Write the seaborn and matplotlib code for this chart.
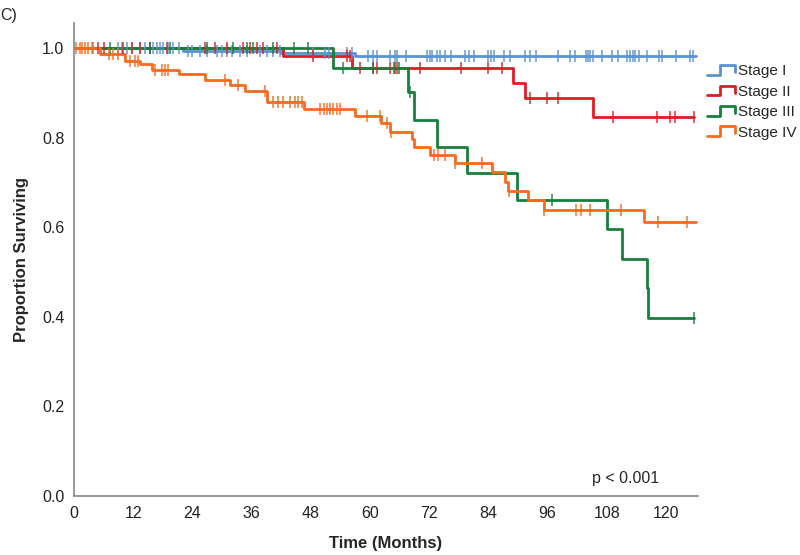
import numpy as np
import pandas as pd
import matplotlib
matplotlib.use("Agg")
import matplotlib.pyplot as plt
from matplotlib.lines import Line2D
from matplotlib.legend_handler import HandlerBase
import seaborn as sns

# Kaplan-Meier step data
stages = ['Stage I', 'Stage II', 'Stage III', 'Stage IV']
colors = ['#5a92d2', '#e01b24', '#17803c', '#f96a1e']

stage1_t = [0, 22, 42, 57]
stage1_s = [1.0, 0.993, 0.989, 0.982]
stage2_t = [0, 42.4, 56.4, 89, 91.5, 105.3]
stage2_s = [1.0, 0.983, 0.955, 0.923, 0.888, 0.847]
stage3_t = [0, 52.5, 67.8, 69, 73.6, 79.7, 89.8, 108, 111, 116.2, 116.4]
stage3_s = [1.0, 0.955, 0.902, 0.84, 0.78, 0.72, 0.66, 0.596, 0.53, 0.464, 0.397]
stage4_t = [0, 5.3, 10.3, 13.4, 15.8, 21.2, 26.6, 31.6, 34.7, 39.1, 46.7, 57, 62.3,
            64.1, 68.5, 69, 72.2, 77.3, 84.7, 87.4, 87.9, 92, 95.2, 115.6]
stage4_s = [1.0, 0.987, 0.971, 0.964, 0.952, 0.942, 0.929, 0.917, 0.905, 0.88, 0.865,
            0.848, 0.832, 0.813, 0.796, 0.78, 0.761, 0.743, 0.723, 0.70, 0.681, 0.661,
            0.638, 0.612]
end_t = [126, 125.6, 125.6, 126]

# censored observations (months)
cens1 = [3.9, 9.0, 9.7, 10.7, 11.7, 13.4, 14.4, 15.4, 16.1, 16.8, 17.4, 18.1, 19.1, 20.1,
         21.2, 23.2, 23.9, 25.6, 26.9, 28.9, 30.0, 31.0, 32.0, 33.7, 35.0, 37.7, 39.1,
         40.4, 41.8, 48.5, 50.9, 51.6, 55.3, 56.3, 59.7, 60.6, 61.4, 64.0, 65.1, 65.5,
         67.3, 71.5, 72.1, 72.5, 73.6, 74.2, 75.3, 76.4, 79.3, 80.0, 81.0, 84.0, 84.5,
         85.1, 87.1, 88.4, 91.5, 92.4, 93.7, 98.2, 100.6, 101.6, 103.7, 104.1, 104.7,
         105.3, 107.0, 109.1, 110.2, 112.1, 112.8, 113.3, 113.8, 114.5, 116.2, 118.5,
         119.2, 122.0, 124.9, 125.4]
cens2 = [4.9, 6.0, 10.0, 11.7, 13.4, 15.4, 18.8, 26.6, 28.6, 31.0, 34.3, 35.7, 37.0, 38.4,
         41.1, 48.5, 55.3, 56.0, 58.0, 60.7, 61.4, 64.1, 64.8, 65.5, 70.2, 78.5, 84.0,
         86.7, 92.5, 95.9, 98.2, 109.3, 118.1, 120.9, 121.9, 125.6]
cens3 = [7.3, 15.4, 19.5, 26.9, 32.3, 35.0, 36.3, 40.4, 44.5, 47.5, 54.6, 60.7, 65.1,
         65.8, 68.2, 97.0, 125.6]
cens4 = [0.5, 1.2, 1.6, 2.2, 2.9, 3.6, 7.0, 8.0, 9.0, 11.4, 12.4, 13.0, 16.4, 17.8, 18.5,
         19.1, 30.6, 33.3, 38.7, 40.4, 41.4, 42.4, 43.8, 44.8, 45.5, 46.2, 49.9, 50.6,
         51.3, 51.9, 52.6, 53.3, 53.9, 59.4, 62.1, 63.4, 64.3, 72.9, 73.7, 75.3, 77.3,
         82.7, 88.1, 95.2, 101.8, 102.8, 104.7, 110.9, 118.4, 124.3]

times = [stage1_t, stage2_t, stage3_t, stage4_t]
survs = [stage1_s, stage2_s, stage3_s, stage4_s]
cens = [cens1, cens2, cens3, cens4]

rows = []
for name, t, s, e in zip(stages, times, survs, end_t):
    for ti, si in zip(t + [e], s + [s[-1]]):
        rows.append((name, ti, si))
df = pd.DataFrame(rows, columns=['stage', 'time', 'surv'])

sns.set_style('white')
plt.rcParams['font.family'] = ['Liberation Sans', 'DejaVu Sans']

fig = plt.figure(figsize=(8, 5.55), dpi=100)
ax = fig.add_axes([0.0925, 0.1063, 0.78, 0.8523])

sns.lineplot(data=df, x='time', y='surv', hue='stage', palette=colors,
             drawstyle='steps-post', estimator=None, sort=False, lw=2,
             legend=False, ax=ax)

for name, t, s, c, col in zip(stages, times, survs, cens, colors):
    idx = np.searchsorted(t, c, side='right') - 1
    ax.plot(c, np.array(s)[idx], linestyle='none', marker='|', ms=8, mew=1.2,
            color=col, alpha=0.85)

ax.set_xlim(0, 126.5)
ax.set_ylim(0, 1.056)
ax.set_xticks(range(0, 121, 12))
ax.set_yticks([0.0, 0.2, 0.4, 0.6, 0.8, 1.0])
ax.set_yticklabels(['0.0', '0.2', '0.4', '0.6', '0.8', '1.0'])
ax.tick_params(length=0, labelsize=11.5, pad=7, colors='#222222')
for side in ['top', 'right']:
    ax.spines[side].set_visible(False)
for side in ['left', 'bottom']:
    ax.spines[side].set_color('#888888')
    ax.spines[side].set_linewidth(1.2)

ax.set_xlabel('Time (Months)', fontsize=12, fontweight='bold', labelpad=11)
ax.set_ylabel('Proportion Surviving', fontsize=12, fontweight='bold', labelpad=9)
ax.text(111.8, 0.04, 'p < 0.001', fontsize=11.5, ha='center', va='center')
fig.text(0.0, 0.985, 'C)', fontsize=11.5, ha='left', va='top')


class StepHandler(HandlerBase):
    def create_artists(self, legend, orig_handle, xd, yd, w, h, fontsize, trans):
        xs = [-xd, -xd + w * 0.45, -xd + w * 0.45, -xd + w, -xd + w]
        ys = [-yd + h * 0.05, -yd + h * 0.05, -yd + h * 0.95, -yd + h * 0.95, -yd + h * 0.3]
        ln = Line2D(xs, ys, color=orig_handle.get_color(), lw=2, transform=trans)
        return [ln]


handles = [Line2D([], [], color=col) for col in colors]
fig.legend(handles, stages, handler_map={Line2D: StepHandler()},
           loc='upper left', bbox_to_anchor=(0.884, 0.884), frameon=False,
           fontsize=11, handlelength=1.8, handletextpad=0.2, labelspacing=0.42,
           borderpad=0, borderaxespad=0)

fig.savefig('out.png', dpi=100)
